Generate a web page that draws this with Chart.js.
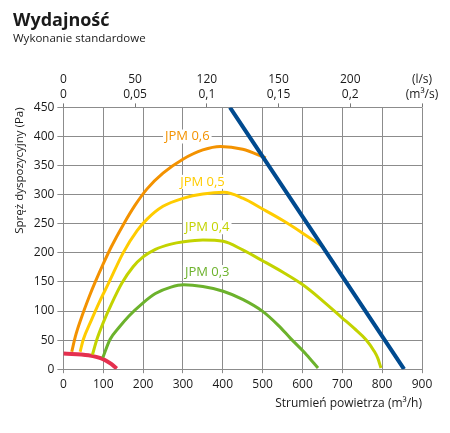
<!DOCTYPE html>
<html>
<head>
<meta charset="utf-8">
<script src="https://cdn.jsdelivr.net/npm/chart.js@4"></script>
<style>
  html, body { margin: 0; padding: 0; background: #fff; }
  #wrap { width: 450px; height: 433px; }
</style>
</head>
<body>
<div id="wrap"><canvas id="perfChart" width="450" height="433"></canvas></div>
<script>
// flow (m3/h) and pressure (Pa)
const jpm06X = [21, 30, 45, 65, 80, 100, 120, 150, 180, 210, 250, 300, 350, 394, 450, 508];
const jpm06Y = [30, 56, 88, 125, 150, 181, 210, 248, 282, 310, 337, 361, 377, 383, 378, 363];
const jpm05X = [42, 50, 70, 90, 115, 150, 185, 210, 250, 302, 350, 403, 450, 501, 550, 596, 654];
const jpm05Y = [30, 51, 84, 115, 150, 200, 238, 258, 280, 294, 301, 304, 294, 275, 256, 236, 209];
const jpm04X = [73, 84, 100, 120, 147, 175, 200, 231, 270, 302, 350, 401, 450, 501, 550, 601, 650, 700, 730, 759, 780, 789, 797];
const jpm04Y = [25, 51, 80, 111, 148, 176, 193, 206, 215, 219, 222, 220, 205, 186, 167, 145, 118, 88, 70, 51, 31, 19, 2];
const jpm03X = [99, 117, 140, 164, 200, 231, 270, 302, 350, 401, 450, 501, 540, 570, 610, 639];
const jpm03Y = [20, 51, 72, 91, 114, 130, 141, 145, 142, 134, 120, 99, 75, 53, 25, 2];
const minX = [0, 63, 101, 120, 134];
const minY = [27, 24, 17, 9, 1];
const limitX = [418, 855];
const limitY = [450, 0];

const seriesNames = ['JPM 0,6', 'JPM 0,5', 'JPM 0,4', 'JPM 0,3'];

// top axis labels, placed at 0, 180, 360, 540, 720, 900 m3/h
const topTickFlow = [0, 180, 360, 540, 720, 900];
const topLabelsLs = ['0', '50', '120', '150', '200', '(l/s)'];
const topLabelsM3s = ['0', '0,05', '0,1', '0,15', '0,2', '(m³/s)'];

const FONT = "'Open Sans', 'Noto Sans', sans-serif";

function pts(xs, ys) {
  return xs.map((x, i) => ({ x: x, y: ys[i] }));
}

function curve(label, xs, ys, color, width) {
  return {
    label: label,
    data: pts(xs, ys),
    showLine: true,
    borderColor: color,
    backgroundColor: color,
    borderWidth: width,
    pointRadius: 0,
    cubicInterpolationMode: 'monotone',
    fill: false
  };
}

// curve name labels with white box behind (anchor in data units)
const labelAnchors = [
  { x: 311, y: 400, color: '#f39200' },
  { x: 349, y: 322, color: '#ffcc00' },
  { x: 361, y: 244, color: '#c3d300' },
  { x: 361, y: 167, color: '#6cb22c' }
];

const curveLabels = {
  id: 'curveLabels',
  afterDatasetsDraw(chart) {
    const ctx = chart.ctx;
    const xs = chart.scales.x, ys = chart.scales.y;
    ctx.save();
    ctx.font = '13px ' + FONT;
    ctx.textAlign = 'center';
    ctx.textBaseline = 'middle';
    labelAnchors.forEach((a, i) => {
      const px = xs.getPixelForValue(a.x);
      const py = ys.getPixelForValue(a.y);
      const w = ctx.measureText(seriesNames[i]).width;
      ctx.fillStyle = '#fff';
      ctx.fillRect(px - w / 2 - 2, py - 7, w + 4, 14);
      ctx.fillStyle = a.color;
      ctx.fillText(seriesNames[i], px, py);
    });
    ctx.restore();
  }
};

function topAxis(labels, weight, showTicks) {
  return {
    type: 'linear',
    position: 'top',
    min: 0,
    max: 900,
    weight: weight,
    afterBuildTicks: s => { s.ticks = topTickFlow.map(v => ({ value: v })); },
    ticks: {
      autoSkip: false,
      maxRotation: 0,
      padding: showTicks ? 3 : 0,
      color: '#1a1a1a',
      font: { family: FONT, size: 12, lineHeight: 1.0 },
      callback: (v, i) => labels[i]
    },
    grid: {
      display: showTicks,
      drawOnChartArea: false,
      drawTicks: showTicks,
      tickLength: 4,
      color: '#777'
    },
    border: { display: false }
  };
}

new Chart(document.getElementById('perfChart'), {
  type: 'scatter',
  data: {
    datasets: [
      curve('limit', limitX, limitY, '#004a8f', 4),
      curve(seriesNames[0], jpm06X, jpm06Y, '#f39200', 3),
      curve(seriesNames[1], jpm05X, jpm05Y, '#ffcc00', 3),
      curve(seriesNames[2], jpm04X, jpm04Y, '#c3d300', 3),
      curve(seriesNames[3], jpm03X, jpm03Y, '#6cb22c', 3),
      curve('min', minX, minY, '#e5304f', 4)
    ]
  },
  options: {
    responsive: false,
    animation: false,
    layout: { padding: { left: 13, right: 28, top: 10, bottom: 22 } },
    plugins: {
      legend: { display: false },
      tooltip: { enabled: false },
      title: {
        display: true,
        text: 'Wydajność',
        align: 'start',
        color: '#1a1a1a',
        font: { family: FONT, size: 18, weight: 'bold' },
        padding: { top: 0, bottom: 0 }
      },
      subtitle: {
        display: true,
        text: 'Wykonanie standardowe',
        align: 'start',
        color: '#1a1a1a',
        font: { family: FONT, size: 11.5 },
        padding: { top: 0, bottom: 28 }
      }
    },
    scales: {
      x: {
        type: 'linear',
        position: 'bottom',
        min: 0,
        max: 900,
        ticks: {
          stepSize: 100,
          maxRotation: 0,
          padding: 4,
          color: '#1a1a1a',
          font: { family: FONT, size: 12 }
        },
        grid: { color: '#8c8c8c', tickLength: 4, lineWidth: 1 },
        border: { display: false },
        title: {
          display: true,
          text: 'Strumień powietrza (m³/h)',
          align: 'end',
          color: '#1a1a1a',
          font: { family: FONT, size: 12 },
          padding: { top: 1, bottom: 0 }
        }
      },
      xTopLs: topAxis(topLabelsLs, 2, false),
      xTopM3s: topAxis(topLabelsM3s, 1, true),
      y: {
        min: 0,
        max: 450,
        ticks: {
          stepSize: 50,
          padding: 3,
          color: '#1a1a1a',
          font: { family: FONT, size: 12 }
        },
        grid: { color: '#8c8c8c', tickLength: 6, lineWidth: 1 },
        border: { display: false },
        title: {
          display: true,
          text: 'Spręż dyspozycyjny (Pa)',
          align: 'end',
          color: '#1a1a1a',
          font: { family: FONT, size: 11.5 },
          padding: { top: 0, bottom: 4 }
        }
      }
    }
  },
  plugins: [curveLabels]
});
</script>
</body>
</html>
